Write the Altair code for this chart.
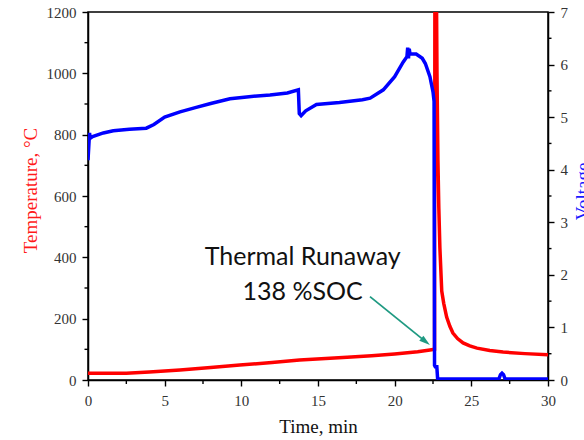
import altair as alt
import pandas as pd

# Temperature (°C) vs time (min)
temp_t = [0, 1, 2.5, 4, 6, 8, 9.9, 12, 13.8, 15.5, 16.9, 18.5, 20, 21.5, 22.3, 22.6,
          22.63, 22.68, 22.76, 22.82, 22.88, 22.95, 23.07, 23.2, 23.39, 23.6, 23.8,
          24.1, 24.46, 24.9, 25.37, 26.2, 27.07, 28.5, 30]
temp_v = [22, 22, 22, 26, 33, 41, 49, 57, 65, 70, 74, 79, 85, 92, 98, 100,
          1600, 1600, 1000, 720, 560, 430, 290, 250, 205, 175, 153,
          135, 121, 111, 104, 96, 91, 86, 82]

# Voltage (V) vs time (min)
volt_t = [0, 0.1, 0.15, 0.3, 1.0, 1.65, 2.7, 3.8, 4.3, 5.0, 6.0, 7.0, 8.0, 9.26, 10.5,
          11.87, 13.0, 13.72, 13.78, 13.9, 14.2, 14.9, 16.4, 17.9, 18.4, 19.26, 20.0,
          20.56, 20.8, 20.85, 20.9, 20.95, 21.0, 21.4, 21.8, 22.0, 22.3, 22.5, 22.57,
          22.6, 22.65, 22.75, 22.8, 22.85, 23.5, 26.8, 26.9, 27.0, 27.1, 27.2, 30]
volt_v = [4.18, 4.7, 4.6, 4.63, 4.7, 4.74, 4.77, 4.79, 4.86, 5.0, 5.1, 5.18, 5.26, 5.35, 5.39,
          5.42, 5.46, 5.52, 5.07, 5.03, 5.12, 5.24, 5.28, 5.33, 5.36, 5.52, 5.77,
          6.05, 6.15, 6.32, 6.12, 6.3, 6.2, 6.2, 6.12, 6.02, 5.77, 5.48, 5.3,
          0.28, 0.25, 0.25, 0.03, 0.02, 0.02, 0.02, 0.1, 0.13, 0.1, 0.02, 0.02]

x_major = [0, 5, 10, 15, 20, 25, 30]
x_minor = [2.5, 7.5, 12.5, 17.5, 22.5, 27.5]
t_major = [0, 200, 400, 600, 800, 1000, 1200]
t_minor = [100, 300, 500, 700, 900, 1100]
v_major = [0, 1, 2, 3, 4, 5, 6, 7]
v_minor = [0.5, 1.5, 2.5, 3.5, 4.5, 5.5, 6.5]

ann_text = ["Thermal Runaway", "138 %SOC"]
ann_t = [14.0, 14.0]
ann_T = [402, 288]
arrow_t = [18.39]
arrow_T = [272]
arrow_t2 = [22.02]
arrow_T2 = [125]

SERIF = "Liberation Serif"
XS = alt.Scale(domain=[0, 30], nice=False, zero=False)
TS = alt.Scale(domain=[0, 1200], nice=False)
VS = alt.Scale(domain=[0, 7], nice=False)

temp_df = pd.DataFrame({"t": temp_t, "T": temp_v})
volt_df = pd.DataFrame({"t": volt_t, "V": volt_v})

x_axis = alt.Axis(values=x_major, title="Time, min", grid=False, tickSize=6, format="d",
                  labelPadding=7, labelFont=SERIF, labelFontSize=15, labelColor="#333333",
                  titleFont=SERIF, titleFontSize=19, titleFontWeight="normal", titleColor="#111111",
                  titleY=52, titleBaseline="alphabetic")


def X(field):
    return alt.X(field, scale=XS, axis=x_axis)


temp_line = alt.Chart(temp_df).mark_line(color="#ff0000", strokeWidth=3.5, clip=True).encode(
    x=X("t:Q"),
    y=alt.Y("T:Q", scale=TS, axis=alt.Axis(
        values=t_major, orient="left", title="Temperature, °C", grid=False, tickSize=6, format="d",
        labelPadding=6, labelFont=SERIF, labelFontSize=15, labelColor="#333333",
        titleFont=SERIF, titleFontSize=19, titleFontWeight="normal", titleColor="#ff1a1a",
        titleAngle=270, titleX=-52, titleY=178, titleBaseline="alphabetic", titleAlign="center")),
)

t_minor_df = pd.DataFrame({"T": t_minor})
t_minor_ticks = alt.Chart(t_minor_df).mark_rule(color="black", strokeWidth=1.4).encode(
    y=alt.Y("T:Q", scale=TS, axis=None),
    x=alt.value(0), x2=alt.value(-3.5),
)

x_minor_df = pd.DataFrame({"t": x_minor})
x_minor_ticks = alt.Chart(x_minor_df).mark_rule(color="black", strokeWidth=1.4).encode(
    x=X("t:Q"),
    y=alt.value(368), y2=alt.value(372),
)

ann_df = pd.DataFrame({"txt": ann_text, "t": ann_t, "T": ann_T})
ann = alt.Chart(ann_df).mark_text(font="Lato", fontSize=25, color="#111111",
                                   align="center", baseline="middle").encode(
    x=X("t:Q"),
    y=alt.Y("T:Q", scale=TS, axis=None),
    text="txt:N",
)

arrow_df = pd.DataFrame({"t": arrow_t, "T": arrow_T, "t2": arrow_t2, "T2": arrow_T2})
arrow_line = alt.Chart(arrow_df).mark_rule(color="#1f9a82", strokeWidth=1.8).encode(
    x=X("t:Q"),
    y=alt.Y("T:Q", scale=TS, axis=None),
    x2="t2:Q", y2="T2:Q",
)
arrow_head = alt.Chart(arrow_df).mark_point(
    shape="M-1,-0.6L1,0L-1,0.6Z", filled=True, opacity=1, color="#1f9a82",
    size=121, angle=38.8).encode(
    x=X("t2:Q"),
    y=alt.Y("T2:Q", scale=TS, axis=None),
)

volt_line = alt.Chart(volt_df).mark_line(color="#0000ff", strokeWidth=3.5, clip=True).encode(
    x=X("t:Q"),
    y=alt.Y("V:Q", scale=VS, axis=alt.Axis(
        values=v_major, orient="right", title="Voltage", grid=False, tickSize=6, format="d",
        labelPadding=6, labelFont=SERIF, labelFontSize=15, labelColor="#333333",
        titleFont=SERIF, titleFontSize=19, titleFontWeight="normal", titleColor="#1a1aff",
        titleAngle=270, titleX=40, titleY=179, titleBaseline="alphabetic", titleAlign="center")),
)

v_minor_df = pd.DataFrame({"V": v_minor})
v_minor_ticks = alt.Chart(v_minor_df).mark_rule(color="black", strokeWidth=1.4).encode(
    y=alt.Y("V:Q", scale=VS, axis=None),
    x=alt.value(460), x2=alt.value(463.5),
)

chart = alt.layer(
    temp_line, t_minor_ticks, x_minor_ticks, ann, arrow_line, arrow_head,
    volt_line, v_minor_ticks,
).resolve_scale(y="independent").properties(
    width=460, height=368,
    padding={"left": 88, "top": 12, "right": 36, "bottom": 60},
    autosize=alt.AutoSizeParams(type="none"),
    background="white",
).configure_view(
    stroke="black", strokeWidth=1.5,
).configure_axis(
    domainColor="black", domainWidth=1.5, tickColor="black", tickWidth=1.4,
    labelFlush=False, labelOverlap=False,
)

chart.save("out.html", embed_options={"renderer": "svg", "actions": False})
